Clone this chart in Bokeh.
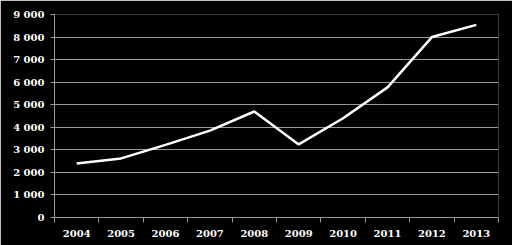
from bokeh.plotting import figure
from bokeh.models import FixedTicker, Range1d
from bokeh.embed import file_html
from bokeh.resources import INLINE

years = ["2004", "2005", "2006", "2007", "2008", "2009", "2010", "2011", "2012", "2013"]
values = [2390, 2620, 3220, 3850, 4700, 3240, 4400, 5770, 8000, 8540]
y_ticks = [0, 1000, 2000, 3000, 4000, 5000, 6000, 7000, 8000, 9000]
y_labels = ["0", "1 000", "2 000", "3 000", "4 000", "5 000", "6 000", "7 000", "8 000", "9 000"]

xs = list(range(len(years)))

p = figure(width=512, height=245, output_backend="svg", toolbar_location=None,
           x_range=Range1d(-0.5, len(years) - 0.5), y_range=Range1d(0, 9000),
           min_border_left=54, min_border_right=14, min_border_top=14, min_border_bottom=28)
p.background_fill_color = "black"
p.border_fill_color = "black"
p.outline_line_color = None

p.line(xs, values, line_color="white", line_width=2.5)

font = "DejaVu Serif"
grid_col = "#9a9a9a"

p.xaxis.ticker = FixedTicker(ticks=xs, minor_ticks=[i - 0.5 for i in range(len(years) + 1)])
p.xaxis.major_label_overrides = {i: y for i, y in enumerate(years)}
p.xaxis.major_tick_line_color = None
p.xaxis.minor_tick_line_color = grid_col
p.xaxis.minor_tick_in = 0
p.xaxis.minor_tick_out = 5
p.xaxis.axis_line_color = grid_col
p.xaxis.major_label_standoff = 6

p.yaxis.ticker = FixedTicker(ticks=y_ticks)
p.yaxis.major_label_overrides = {t: l for t, l in zip(y_ticks, y_labels)}
p.yaxis.major_tick_line_color = grid_col
p.yaxis.major_tick_in = 0
p.yaxis.major_tick_out = 4
p.yaxis.minor_tick_line_color = None
p.yaxis.axis_line_color = grid_col
p.yaxis.major_label_standoff = 6

for ax in (p.xaxis, p.yaxis):
    ax.major_label_text_color = "white"
    ax.major_label_text_font = font
    ax.major_label_text_font_style = "bold"
    ax.major_label_text_font_size = "10px"

p.xgrid.grid_line_color = None
p.ygrid.grid_line_color = grid_col
p.ygrid.grid_line_width = 1

open("out.html", "w").write(file_html(p, INLINE))
